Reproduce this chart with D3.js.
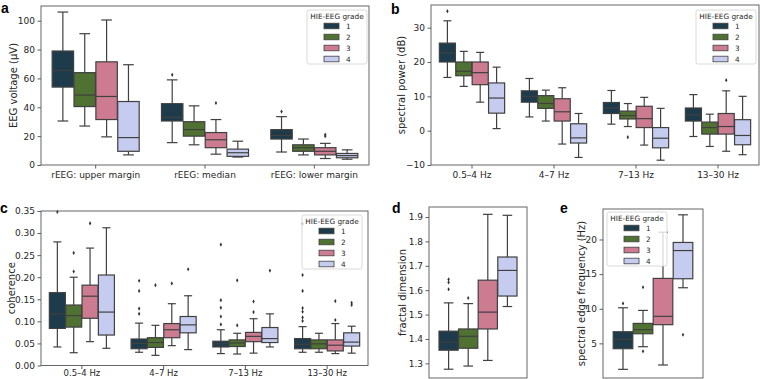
<!DOCTYPE html>
<html>
<head>
<meta charset="utf-8">
<script src="https://cdn.jsdelivr.net/npm/d3@7"></script>
<style>
  body { margin: 0; background: #fff; }
  text { font-family: "DejaVu Sans", sans-serif; fill: #262626; }
</style>
</head>
<body>
<svg id="fig" width="760" height="379"></svg>
<script>
const grades = ["1", "2", "3", "4"];
const gradeColors = ["#1d3b4b", "#4f7131", "#cc7b91", "#c6ccef"];

// each box: [low whisker, q1, median, q3, high whisker]; outliers: [category, grade, value]
const rEEGCats = ["rEEG: upper margin", "rEEG: median", "rEEG: lower margin"];
const rEEGStats = [
  [[30.5, 54, 65.5, 79, 106], [27, 40.5, 48.5, 64, 91], [19.5, 31.5, 47.5, 71.5, 100.5], [7, 9.5, 19, 44, 69.5]],
  [[15.5, 30.5, 33, 42.5, 59], [14, 20, 24.5, 30, 41], [7.5, 12, 17.5, 22.5, 31.5], [5.5, 6, 8.5, 11, 16.5]],
  [[9, 18, 20.5, 24.5, 33.5], [7, 9.5, 12, 14, 18], [4.5, 7, 9.5, 12, 15], [4, 5, 6.5, 8, 10.5]]
];
const rEEGOutliers = [[1, 0, 62.5], [1, 2, 43], [2, 0, 37], [2, 2, 21], [2, 2, 20]];
const rEEGTicks = [0, 20, 40, 60, 80, 100];

const freqCats = ["0.5–4 Hz", "4–7 Hz", "7–13 Hz", "13–30 Hz"];
const powerStats = [
  [[15.5, 20, 22.6, 25.5, 32], [12.9, 16, 17.3, 20, 23.1], [8.3, 13.4, 16.9, 20, 22.8], [0.6, 5.1, 9.5, 13.9, 18.5]],
  [[4, 8.3, 10, 11.6, 15.2], [2.8, 6.5, 7.9, 10.2, 11.8], [-3.9, 2.8, 5.5, 9.3, 12.5], [-7.8, -3.6, -2.1, 2.0, 5]],
  [[1.9, 5, 6.6, 8.2, 11.7], [1.2, 3.4, 4.4, 5.7, 7.9], [-4.2, 0.9, 3.5, 7.1, 9.7], [-8.6, -5, -2.2, 0.9, 6.5]],
  [[-1.7, 2.8, 4.6, 6.6, 10.5], [-4.6, -1, 0.9, 2.5, 4.8], [-6, -1, 1.2, 5, 11.6], [-7, -4.1, -1.4, 3.2, 10]]
];
const powerOutliers = [[0, 0, 34.8], [2, 1, -1.9], [3, 2, 14.7]];
const powerTicks = [-10, 0, 10, 20, 30];

const cohStats = [
  [[0.042, 0.084, 0.117, 0.165, 0.280], [0.029, 0.087, 0.113, 0.137, 0.200], [0.054, 0.107, 0.157, 0.182, 0.266], [0.039, 0.069, 0.121, 0.205, 0.312]],
  [[0.030, 0.038, 0.050, 0.060, 0.096], [0.023, 0.041, 0.052, 0.063, 0.091], [0.045, 0.063, 0.081, 0.095, 0.140], [0.036, 0.074, 0.092, 0.111, 0.158]],
  [[0.027, 0.042, 0.049, 0.055, 0.081], [0.026, 0.043, 0.051, 0.058, 0.073], [0.028, 0.054, 0.066, 0.075, 0.106], [0.042, 0.052, 0.061, 0.086, 0.117]],
  [[0.030, 0.038, 0.048, 0.061, 0.088], [0.030, 0.038, 0.049, 0.058, 0.073], [0.027, 0.033, 0.046, 0.058, 0.095], [0.028, 0.044, 0.053, 0.074, 0.089]]
];
const cohOutliers = [
  [0, 0, 0.348], [0, 1, 0.255], [0, 1, 0.213], [0, 2, 0.322],
  [1, 0, 0.192], [1, 0, 0.169], [1, 0, 0.129], [1, 0, 0.117], [1, 1, 0.182], [1, 2, 0.186], [1, 3, 0.218],
  [2, 0, 0.274], [2, 0, 0.148], [2, 0, 0.131], [2, 0, 0.111], [2, 0, 0.093], [2, 1, 0.193], [2, 1, 0.091],
  [2, 2, 0.145], [2, 2, 0.121], [2, 3, 0.215],
  [3, 0, 0.321], [3, 0, 0.205], [3, 0, 0.169], [3, 0, 0.130], [3, 0, 0.122], [3, 0, 0.109], [3, 0, 0.101],
  [3, 2, 0.146], [3, 2, 0.103], [3, 3, 0.142], [3, 3, 0.137]
];
const cohTicks = [0, 0.05, 0.10, 0.15, 0.20, 0.25, 0.30, 0.35];

const fdStats = [
  [[1.276, 1.354, 1.387, 1.432, 1.548], [1.289, 1.362, 1.411, 1.441, 1.545], [1.312, 1.441, 1.510, 1.641, 1.911], [1.533, 1.576, 1.681, 1.736, 1.907]]
];
const fdOutliers = [[0, 0, 1.644], [0, 0, 1.632], [0, 0, 1.604], [0, 1, 1.568]];
const fdTicks = [1.3, 1.4, 1.5, 1.6, 1.7, 1.8, 1.9];

const sefStats = [
  [[1.25, 4.23, 5.58, 6.68, 10.14], [4.52, 6.39, 6.97, 7.88, 9.76], [1.88, 7.7, 8.9, 14.38, 21.05], [13.03, 14.33, 18.4, 19.57, 23.56]]
];
const sefOutliers = [[0, 0, 10.77], [0, 1, 13.1], [0, 1, 3.85], [0, 3, 6.25]];
const sefTicks = [5, 10, 15, 20];

const svg = d3.select("#fig");
const lineColor = "#404040";

function drawPanel(cfg) {
  const g = svg.append("g");
  const x = d3.scaleBand().domain(cfg.cats).range([cfg.left, cfg.right]);
  const y = d3.scaleLinear().domain(cfg.yDomain).range([cfg.bottom, cfg.top]);
  const hue = d3.scaleBand().domain(grades)
    .range([x.bandwidth() * 0.1, x.bandwidth() * 0.9]);
  const bw = hue.bandwidth() * 0.98;
  const color = d3.scaleOrdinal().domain(grades).range(gradeColors);

  const boxes = [];
  cfg.stats.forEach((row, ci) => row.forEach((s, gi) => {
    boxes.push({ cat: cfg.cats[ci], grade: grades[gi], s });
  }));
  const cx = d => x(d.cat) + hue(d.grade) + hue.bandwidth() / 2;

  const bg = g.selectAll("g.box").data(boxes).join("g").attr("class", "box");
  // whiskers
  bg.append("line").attr("x1", cx).attr("x2", cx)
    .attr("y1", d => y(d.s[0])).attr("y2", d => y(d.s[1]))
    .attr("stroke", lineColor).attr("stroke-width", 1.2);
  bg.append("line").attr("x1", cx).attr("x2", cx)
    .attr("y1", d => y(d.s[3])).attr("y2", d => y(d.s[4]))
    .attr("stroke", lineColor).attr("stroke-width", 1.2);
  [0, 4].forEach(k => {
    bg.append("line")
      .attr("x1", d => cx(d) - bw / 4).attr("x2", d => cx(d) + bw / 4)
      .attr("y1", d => y(d.s[k])).attr("y2", d => y(d.s[k]))
      .attr("stroke", lineColor).attr("stroke-width", 1.2);
  });
  bg.append("rect")
    .attr("x", d => cx(d) - bw / 2).attr("width", bw)
    .attr("y", d => y(d.s[3])).attr("height", d => y(d.s[1]) - y(d.s[3]))
    .attr("fill", d => color(d.grade))
    .attr("stroke", lineColor).attr("stroke-width", 1.2);
  bg.append("line")
    .attr("x1", d => cx(d) - bw / 2).attr("x2", d => cx(d) + bw / 2)
    .attr("y1", d => y(d.s[2])).attr("y2", d => y(d.s[2]))
    .attr("stroke", lineColor).attr("stroke-width", 1.2);

  // outliers
  g.selectAll("path.flier").data(cfg.outliers).join("path")
    .attr("class", "flier")
    .attr("d", d3.symbol(d3.symbolDiamond, 5))
    .attr("transform", d => `translate(${x(cfg.cats[d[0]]) + hue(grades[d[1]]) + hue.bandwidth() / 2},${y(d[2])})`)
    .attr("fill", "#333");

  // axes
  const ya = g.append("g").attr("transform", `translate(${cfg.left},0)`)
    .call(d3.axisLeft(y).tickValues(cfg.ticks).tickSize(3.5).tickPadding(2.5).tickFormat(cfg.fmt));
  ya.select(".domain").remove();
  ya.selectAll("text").style("font-size", "9px").style("font-family", "DejaVu Sans");
  ya.selectAll("line").attr("stroke", "#333").attr("stroke-width", 0.8);

  if (cfg.showX) {
    const xa = g.append("g").attr("transform", `translate(0,${cfg.bottom})`)
      .call(d3.axisBottom(x).tickSize(3.5).tickPadding(cfg.xPad));
    xa.select(".domain").remove();
    xa.selectAll("text").style("font-size", cfg.xFont).style("font-family", "DejaVu Sans");
    xa.selectAll("line").attr("stroke", "#333").attr("stroke-width", 0.8);
  }

  g.append("rect")
    .attr("x", cfg.left).attr("y", cfg.top)
    .attr("width", cfg.right - cfg.left).attr("height", cfg.bottom - cfg.top)
    .attr("fill", "none").attr("stroke", "#555").attr("stroke-width", 0.9);

  g.append("text")
    .attr("transform", `translate(${cfg.labelX},${(cfg.top + cfg.bottom) / 2}) rotate(-90)`)
    .attr("text-anchor", "middle").attr("dy", "0.35em")
    .style("font-size", "10px")
    .text(cfg.yLabel);

  g.append("text")
    .attr("x", cfg.letter[1]).attr("y", cfg.letter[2])
    .style("font-family", "Liberation Sans, Arial, sans-serif")
    .style("font-weight", "bold").style("font-size", "14px").style("fill", "#000")
    .text(cfg.letter[0]);

  if (cfg.legend) {
    const [lx, ly] = cfg.legend;
    const lw = 60, lh = 54;
    const lg = g.append("g").attr("transform", `translate(${lx},${ly})`);
    lg.append("rect").attr("width", lw).attr("height", lh).attr("rx", 2)
      .attr("fill", "#fff").attr("fill-opacity", 0.8)
      .attr("stroke", "#d0d0d0").attr("stroke-width", 0.8);
    lg.append("text").attr("x", lw / 2).attr("y", 8.5).attr("text-anchor", "middle")
      .style("font-size", "7.3px").text("HIE-EEG grade");
    grades.forEach((gr, i) => {
      const yy = 16 + i * 11;
      lg.append("rect").attr("x", 17).attr("y", yy - 2.8).attr("width", 15).attr("height", 5.6)
        .attr("fill", color(gr)).attr("stroke", lineColor).attr("stroke-width", 0.8);
      lg.append("text").attr("x", 39).attr("y", yy).attr("dy", "0.35em")
        .style("font-size", "7.3px").text(gr);
    });
  }
}

drawPanel({
  cats: rEEGCats, stats: rEEGStats, outliers: rEEGOutliers, ticks: rEEGTicks,
  fmt: d3.format("d"), left: 41, right: 369, top: 6, bottom: 165, yDomain: [0, 110.2],
  yLabel: "EEG voltage (μV)", labelX: 13, letter: ["a", 1, 13], legend: [307, 10],
  showX: true, xPad: 3, xFont: "9px"
});
drawPanel({
  cats: freqCats, stats: powerStats, outliers: powerOutliers, ticks: powerTicks,
  fmt: d3.format("d"), left: 431, right: 759, top: 5, bottom: 165, yDomain: [-10, 36.6],
  yLabel: "spectral power (dB)", labelX: 401, letter: ["b", 391, 13.5], legend: [696, 10],
  showX: true, xPad: 3, xFont: "9px"
});
drawPanel({
  cats: freqCats, stats: cohStats, outliers: cohOutliers, ticks: cohTicks,
  fmt: d3.format(".2f"), left: 41, right: 368, top: 211, bottom: 365.5, yDomain: [0, 0.35],
  yLabel: "coherence", labelX: 11, letter: ["c", 0, 213], legend: [302, 215],
  showX: true, xPad: 1, xFont: "8.5px"
});
drawPanel({
  cats: [""], stats: fdStats, outliers: fdOutliers, ticks: fdTicks,
  fmt: d3.format(".1f"), left: 429, right: 527, top: 207, bottom: 378, yDomain: [1.24, 1.941],
  yLabel: "fractal dimension", labelX: 402, letter: ["d", 392, 213], legend: null, showX: false
});
drawPanel({
  cats: [""], stats: sefStats, outliers: sefOutliers, ticks: sefTicks,
  fmt: d3.format("d"), left: 603, right: 703, top: 209, bottom: 378, yDomain: [0, 24.4],
  yLabel: "spectral edge frequency (Hz)", labelX: 581, letter: ["e", 560, 213], legend: [607, 212], showX: false
});
</script>
</body>
</html>
